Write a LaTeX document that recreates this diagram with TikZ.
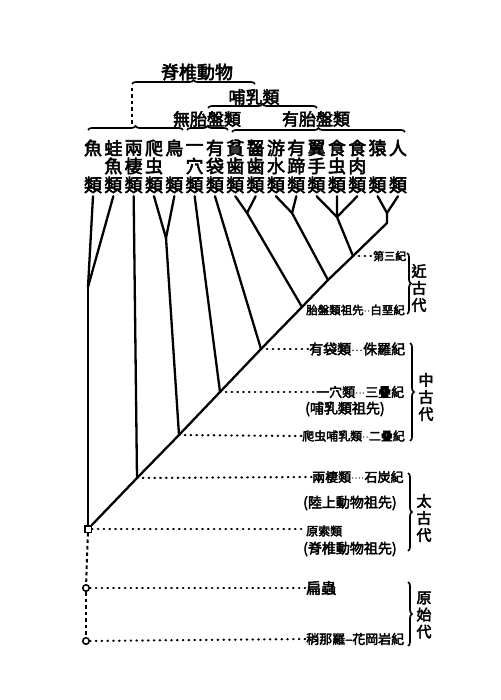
\documentclass[tikz,border=0pt]{standalone}
\usepackage{fontspec}
\newfontfamily\cjk{Noto Sans CJK TC}[FakeBold=3]
\usetikzlibrary{decorations.pathreplacing}
\newcommand\dotrun{${\cdot}{\cdot}{\cdot}$}

\begin{document}
\begin{tikzpicture}[
    x=1pt, y=-1pt,
    leaf/.style={inner sep=0pt, font=\cjk\fontsize{18}{18}\selectfont},
    head/.style={inner sep=0pt, font=\cjk\fontsize{17}{17}\selectfont},
    lbl/.style={anchor=west, inner sep=0pt, font=\cjk\fontsize{13}{13}\selectfont},
    era/.style={inner sep=0pt, align=center, font=\cjk\fontsize{15}{17}\selectfont},
    tree/.style={line width=2.3pt, line cap=round, line join=round},
    brc/.style={decorate, decoration={brace, amplitude=4pt}, line width=1.7pt},
    dots/.style={line width=2.2pt, line cap=round, dash pattern=on 0.6pt off 5.2pt},
    link/.style={line width=2pt, dash pattern=on 3.5pt off 3pt},
    mark box/.style={draw, fill=white, line width=1.5pt, minimum size=6.5pt, inner sep=0pt}
]
\useasboundingbox (0,0) rectangle (500,700);

% group labels with braces
\node[head, font=\cjk\fontsize{18}{18}\selectfont] (vert) at (197,72) {脊椎動物};
\node[head] (mamm) at (254,97) {哺乳類};
\node[head] (nopl) at (207,119) {無胎盤類};
\node[head] (plac) at (316,119) {有胎盤類};
\draw[brc] (132,84) -- (255,84);
\draw[brc] (208,108) -- (317,108);
\draw[brc] (88,130) -- (183,130);
\draw[brc] (187,130) -- (228,130);
\draw[brc] (232,132) -- (405,132);
\coordinate (vleft) at (132,88);
\coordinate (ftip) at (132,125);
\draw[link] (vleft) -- (ftip);

% columns of names
\foreach \hd/\md [count=\i] in {魚/,蛙/魚,兩/棲,爬/虫,鳥/,一/穴,有/袋,貧/歯,齧/歯,游/水,有/蹄,翼/手,食/虫,食/肉,猿/,人/} {
  \node[leaf] (hd\i) at ({93+20.33*(\i-1)},148) {\hd};
  \node[leaf] (md\i) at ({93+20.33*(\i-1)},166) {\md};
  \node[leaf, outer sep=3pt] (lf\i) at ({93+20.33*(\i-1)},185) {類};
}

% tree
\node[mark box] (root) at (88,529) {};
\node[mark box, circle] (o1) at (86,588) {};
\node[mark box, circle] (o2) at (86,641) {};
\coordinate (f) at (88,287);
\coordinate (j1) at (137,478);
\coordinate (j2) at (179,435);
\coordinate (j3) at (220,392);
\coordinate (j4) at (261,349);
\coordinate (j5) at (302,307);
\coordinate (j6) at (328,280);
\coordinate (j7) at (353,256);
\coordinate (tp) at (387,223);
\coordinate (rb) at (166,238);
\coordinate (ed) at (247,213);
\coordinate (su) at (292,213);
\coordinate (ci) at (337,217);
\coordinate (ap) at (387,213);

\draw[tree] (root) -- (j1) -- (j2) -- (j3) -- (j4) -- (j5) -- (j6) -- (j7) -- (tp) -- (ap);
\draw[tree] (root) -- (f);
\draw[tree] (f) -- (lf1.south);
\draw[tree] (f) -- (lf2.south);
\draw[tree] (j1) -- (lf3.south);
\draw[tree] (j2) -- (rb);
\draw[tree] (rb) -- (lf4.south);
\draw[tree] (rb) -- (lf5.south);
\draw[tree] (j3) -- (lf6.south);
\draw[tree] (j4) -- (lf7.south);
\draw[tree] (j5) -- (ed);
\draw[tree] (ed) -- (lf8.south);
\draw[tree] (ed) -- (lf9.south);
\draw[tree] (j6) -- (su);
\draw[tree] (su) -- (lf10.south);
\draw[tree] (su) -- (lf11.south);
\draw[tree] (j7) -- (ci);
\draw[tree] (ci) -- (lf12.south);
\draw[tree] (ci) -- (lf13.south);
\draw[tree] (ci) -- (lf14.south);
\draw[tree] (ap) -- (lf15.south);
\draw[tree] (ap) -- (lf16.south);
\draw[link] (root) -- (o1);
\draw[link] (o1) -- (o2);

% ancestors and periods
\node[lbl, font=\cjk\fontsize{11}{11}\selectfont] (p3) at (373,256) {第三紀};
\node[lbl, font=\cjk\fontsize{11.5}{11.5}\selectfont] (pcre) at (306,310) {胎盤類祖先${\cdot}{\cdot}$白堊紀};
\node[lbl, font=\cjk\fontsize{14}{14}\selectfont] (pjur) at (309,349) {有袋類\dotrun 侏羅紀};
\node[lbl] (ptri) at (316,392) {一穴類\dotrun 三疊紀};
\node[lbl, font=\cjk\fontsize{14}{14}\selectfont] (ptri2) at (305,409) {(哺乳類祖先)};
\node[lbl, font=\cjk\fontsize{12}{12}\selectfont] (pper) at (302,436) {爬虫哺乳類${\cdot}{\cdot}$二疊紀};
\node[lbl] (pcar) at (312,477) {兩棲類\dotrun${\cdot}$石炭紀};
\node[lbl, font=\cjk\fontsize{14}{14}\selectfont] (pcar2) at (303,503) {(陸上動物祖先)};
\node[lbl, font=\cjk\fontsize{12}{12}\selectfont] (pch) at (306,531) {原索類};
\node[lbl, font=\cjk\fontsize{14}{14}\selectfont] (pch2) at (303,549) {(脊椎動物祖先)};
\node[lbl, font=\cjk\fontsize{15}{15}\selectfont] (pwo) at (306,588) {扁蟲};
\node[lbl] (pgr) at (306,639) {稍那羅–花岡岩紀};

\draw[dots] (j7) -- (p3.west);
\draw[dots] (j4) -- (pjur.west);
\draw[dots] (j3) -- (ptri.west);
\draw[dots] (j2) -- (pper.west);
\draw[dots] (j1) -- (pcar.west);
\draw[dots] (root) -- (pch.west |- root);
\draw[dots] (o1) -- (pwo.west);
\draw[dots] (o2) -- (pgr.west);

% eras
\draw[brc] (407,253) -- (407,314);
\draw[brc] (410,343) -- (410,441);
\draw[brc] (408,473) -- (408,551);
\draw[brc] (408,582) -- (408,646);
\node[era] (e1) at (419,288) {近\\古\\代};
\node[era] (e2) at (426,397) {中\\古\\代};
\node[era] (e3) at (424,518) {太\\古\\代};
\node[era] (e4) at (424,615) {原\\始\\代};

\end{tikzpicture}
\end{document}
